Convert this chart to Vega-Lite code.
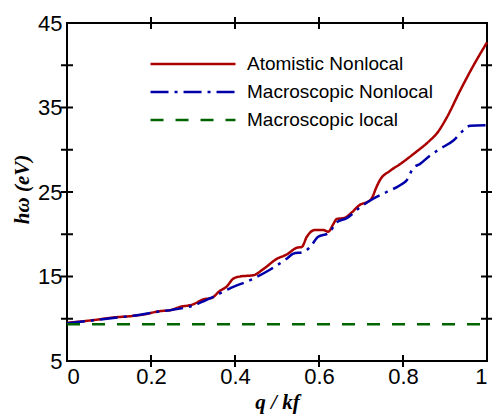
{
  "$schema": "https://vega.github.io/schema/vega-lite/v6.json",
  "autosize": "none",
  "width": 420,
  "height": 338,
  "padding": {"left": 67, "top": 23, "right": 5, "bottom": 54},
  "background": "#ffffff",
  "config": {
    "view": {"stroke": "#000000", "strokeWidth": 2},
    "axis": {
      "domain": false, "ticks": false, "grid": false,
      "labelFont": "Liberation Sans", "labelFontSize": 22, "labelColor": "#000000",
      "titleFont": "Liberation Serif", "titleFontSize": 21, "titleFontWeight": "bold", "titleFontStyle": "italic", "titleColor": "#000000"
    },
    "legend": {
      "orient": "none", "legendX": 114, "legendY": 29, "padding": 0,
      "symbolType": "M-4,0H4", "symbolSize": 451, "symbolStrokeWidth": 2.5,
      "labelFont": "Liberation Sans", "labelFontSize": 19, "labelColor": "#000000",
      "labelLimit": 0, "labelOffset": 42, "rowPadding": 6,
      "title": null
    }
  },
  "datasets": {
    "xticks": [{"v": 0.2}, {"v": 0.4}, {"v": 0.6}, {"v": 0.8}],
    "yticks": [{"v": 10}, {"v": 15}, {"v": 20}, {"v": 25}, {"v": 30}, {"v": 35}, {"v": 40}],
    "curves": [
    {"q": 0.0, "E": 9.52, "s": "Atomistic Nonlocal"},
    {"q": 0.063, "E": 9.84, "s": "Atomistic Nonlocal"},
    {"q": 0.11, "E": 10.15, "s": "Atomistic Nonlocal"},
    {"q": 0.15, "E": 10.3, "s": "Atomistic Nonlocal"},
    {"q": 0.182, "E": 10.5, "s": "Atomistic Nonlocal"},
    {"q": 0.221, "E": 10.9, "s": "Atomistic Nonlocal"},
    {"q": 0.245, "E": 11.0, "s": "Atomistic Nonlocal"},
    {"q": 0.269, "E": 11.4, "s": "Atomistic Nonlocal"},
    {"q": 0.3, "E": 11.7, "s": "Atomistic Nonlocal"},
    {"q": 0.325, "E": 12.3, "s": "Atomistic Nonlocal"},
    {"q": 0.344, "E": 12.45, "s": "Atomistic Nonlocal"},
    {"q": 0.364, "E": 13.3, "s": "Atomistic Nonlocal"},
    {"q": 0.38, "E": 13.8, "s": "Atomistic Nonlocal"},
    {"q": 0.396, "E": 14.75, "s": "Atomistic Nonlocal"},
    {"q": 0.412, "E": 15.0, "s": "Atomistic Nonlocal"},
    {"q": 0.444, "E": 15.15, "s": "Atomistic Nonlocal"},
    {"q": 0.468, "E": 15.9, "s": "Atomistic Nonlocal"},
    {"q": 0.5, "E": 17.1, "s": "Atomistic Nonlocal"},
    {"q": 0.523, "E": 17.6, "s": "Atomistic Nonlocal"},
    {"q": 0.547, "E": 18.4, "s": "Atomistic Nonlocal"},
    {"q": 0.559, "E": 18.5, "s": "Atomistic Nonlocal"},
    {"q": 0.571, "E": 19.7, "s": "Atomistic Nonlocal"},
    {"q": 0.59, "E": 20.5, "s": "Atomistic Nonlocal"},
    {"q": 0.61, "E": 20.5, "s": "Atomistic Nonlocal"},
    {"q": 0.622, "E": 20.3, "s": "Atomistic Nonlocal"},
    {"q": 0.634, "E": 21.2, "s": "Atomistic Nonlocal"},
    {"q": 0.642, "E": 21.8, "s": "Atomistic Nonlocal"},
    {"q": 0.662, "E": 21.95, "s": "Atomistic Nonlocal"},
    {"q": 0.674, "E": 22.4, "s": "Atomistic Nonlocal"},
    {"q": 0.698, "E": 23.5, "s": "Atomistic Nonlocal"},
    {"q": 0.714, "E": 23.8, "s": "Atomistic Nonlocal"},
    {"q": 0.725, "E": 24.2, "s": "Atomistic Nonlocal"},
    {"q": 0.737, "E": 25.6, "s": "Atomistic Nonlocal"},
    {"q": 0.745, "E": 26.4, "s": "Atomistic Nonlocal"},
    {"q": 0.769, "E": 27.5, "s": "Atomistic Nonlocal"},
    {"q": 0.793, "E": 28.3, "s": "Atomistic Nonlocal"},
    {"q": 0.825, "E": 29.5, "s": "Atomistic Nonlocal"},
    {"q": 0.864, "E": 31.1, "s": "Atomistic Nonlocal"},
    {"q": 0.88, "E": 31.9, "s": "Atomistic Nonlocal"},
    {"q": 0.904, "E": 33.8, "s": "Atomistic Nonlocal"},
    {"q": 0.936, "E": 37.0, "s": "Atomistic Nonlocal"},
    {"q": 0.967, "E": 39.9, "s": "Atomistic Nonlocal"},
    {"q": 1.0, "E": 42.7, "s": "Atomistic Nonlocal"},
    {"q": 0.0, "E": 9.45, "s": "Macroscopic Nonlocal"},
    {"q": 0.06, "E": 9.8, "s": "Macroscopic Nonlocal"},
    {"q": 0.11, "E": 10.1, "s": "Macroscopic Nonlocal"},
    {"q": 0.17, "E": 10.45, "s": "Macroscopic Nonlocal"},
    {"q": 0.22, "E": 10.85, "s": "Macroscopic Nonlocal"},
    {"q": 0.25, "E": 11.05, "s": "Macroscopic Nonlocal"},
    {"q": 0.3, "E": 11.55, "s": "Macroscopic Nonlocal"},
    {"q": 0.34, "E": 12.4, "s": "Macroscopic Nonlocal"},
    {"q": 0.388, "E": 13.6, "s": "Macroscopic Nonlocal"},
    {"q": 0.444, "E": 14.75, "s": "Macroscopic Nonlocal"},
    {"q": 0.483, "E": 15.8, "s": "Macroscopic Nonlocal"},
    {"q": 0.523, "E": 17.1, "s": "Macroscopic Nonlocal"},
    {"q": 0.539, "E": 17.7, "s": "Macroscopic Nonlocal"},
    {"q": 0.563, "E": 17.9, "s": "Macroscopic Nonlocal"},
    {"q": 0.579, "E": 18.5, "s": "Macroscopic Nonlocal"},
    {"q": 0.598, "E": 19.7, "s": "Macroscopic Nonlocal"},
    {"q": 0.622, "E": 20.1, "s": "Macroscopic Nonlocal"},
    {"q": 0.642, "E": 21.4, "s": "Macroscopic Nonlocal"},
    {"q": 0.666, "E": 21.9, "s": "Macroscopic Nonlocal"},
    {"q": 0.698, "E": 23.2, "s": "Macroscopic Nonlocal"},
    {"q": 0.729, "E": 24.2, "s": "Macroscopic Nonlocal"},
    {"q": 0.761, "E": 25.0, "s": "Macroscopic Nonlocal"},
    {"q": 0.793, "E": 25.8, "s": "Macroscopic Nonlocal"},
    {"q": 0.809, "E": 26.4, "s": "Macroscopic Nonlocal"},
    {"q": 0.825, "E": 27.9, "s": "Macroscopic Nonlocal"},
    {"q": 0.84, "E": 28.3, "s": "Macroscopic Nonlocal"},
    {"q": 0.864, "E": 29.3, "s": "Macroscopic Nonlocal"},
    {"q": 0.888, "E": 30.1, "s": "Macroscopic Nonlocal"},
    {"q": 0.92, "E": 31.1, "s": "Macroscopic Nonlocal"},
    {"q": 0.944, "E": 32.3, "s": "Macroscopic Nonlocal"},
    {"q": 0.96, "E": 32.85, "s": "Macroscopic Nonlocal"},
    {"q": 1.0, "E": 32.9, "s": "Macroscopic Nonlocal"},
    {"q": 0.0, "E": 9.35, "s": "Macroscopic local"},
    {"q": 1.0, "E": 9.35, "s": "Macroscopic local"}
    ]
  },
  "layer": [
    {
      "data": {"name": "xticks"},
      "mark": {"type": "tick", "orient": "vertical", "size": 12, "thickness": 2, "color": "#000000", "opacity": 1},
      "encoding": {
        "x": {"field": "v", "type": "quantitative"},
        "y": {"datum": 5, "type": "quantitative"}
      }
    },
    {
      "data": {"name": "xticks"},
      "mark": {"type": "tick", "orient": "vertical", "size": 12, "thickness": 2, "color": "#000000", "opacity": 1},
      "encoding": {
        "x": {"field": "v", "type": "quantitative"},
        "y": {"datum": 45, "type": "quantitative"}
      }
    },
    {
      "data": {"name": "yticks"},
      "mark": {"type": "tick", "orient": "horizontal", "size": 12, "thickness": 2, "color": "#000000", "opacity": 1},
      "encoding": {
        "y": {"field": "v", "type": "quantitative"},
        "x": {"datum": 0, "type": "quantitative"}
      }
    },
    {
      "data": {"name": "yticks"},
      "mark": {"type": "tick", "orient": "horizontal", "size": 12, "thickness": 2, "color": "#000000", "opacity": 1},
      "encoding": {
        "y": {"field": "v", "type": "quantitative"},
        "x": {"datum": 1, "type": "quantitative"}
      }
    },
    {
      "data": {"name": "curves"},
      "mark": {"type": "line", "strokeWidth": 2.5, "interpolate": "monotone"},
      "encoding": {
        "x": {"field": "q", "type": "quantitative", "scale": {"domain": [0, 1], "nice": false},
              "axis": {"orient": "bottom", "values": [0, 0.2, 0.4, 0.6, 0.8, 1], "format": "~g", "labelPadding": 5,
                       "title": "q / kf", "titleY": 41, "titleBaseline": "middle"}},
        "y": {"field": "E", "type": "quantitative", "scale": {"domain": [5, 45], "nice": false, "zero": false},
              "axis": {"orient": "left", "values": [5, 15, 25, 35, 45], "labelPadding": 5,
                       "title": "hω (eV)", "titleX": -45, "titleY": 166, "titleBaseline": "middle", "titleAngle": -90}},
        "color": {"field": "s", "type": "nominal",
                  "scale": {"domain": ["Atomistic Nonlocal", "Macroscopic Nonlocal", "Macroscopic local"], "range": ["#AA0000", "#0000AA", "#006400"]},
                  "legend": {"title": null}},
        "strokeDash": {"field": "s", "type": "nominal",
                  "scale": {"domain": ["Atomistic Nonlocal", "Macroscopic Nonlocal", "Macroscopic local"], "range": [[1, 0], [18, 6, 3, 6], [13, 12]]},
                  "legend": {"title": null}}
      }
    }
  ]
}
